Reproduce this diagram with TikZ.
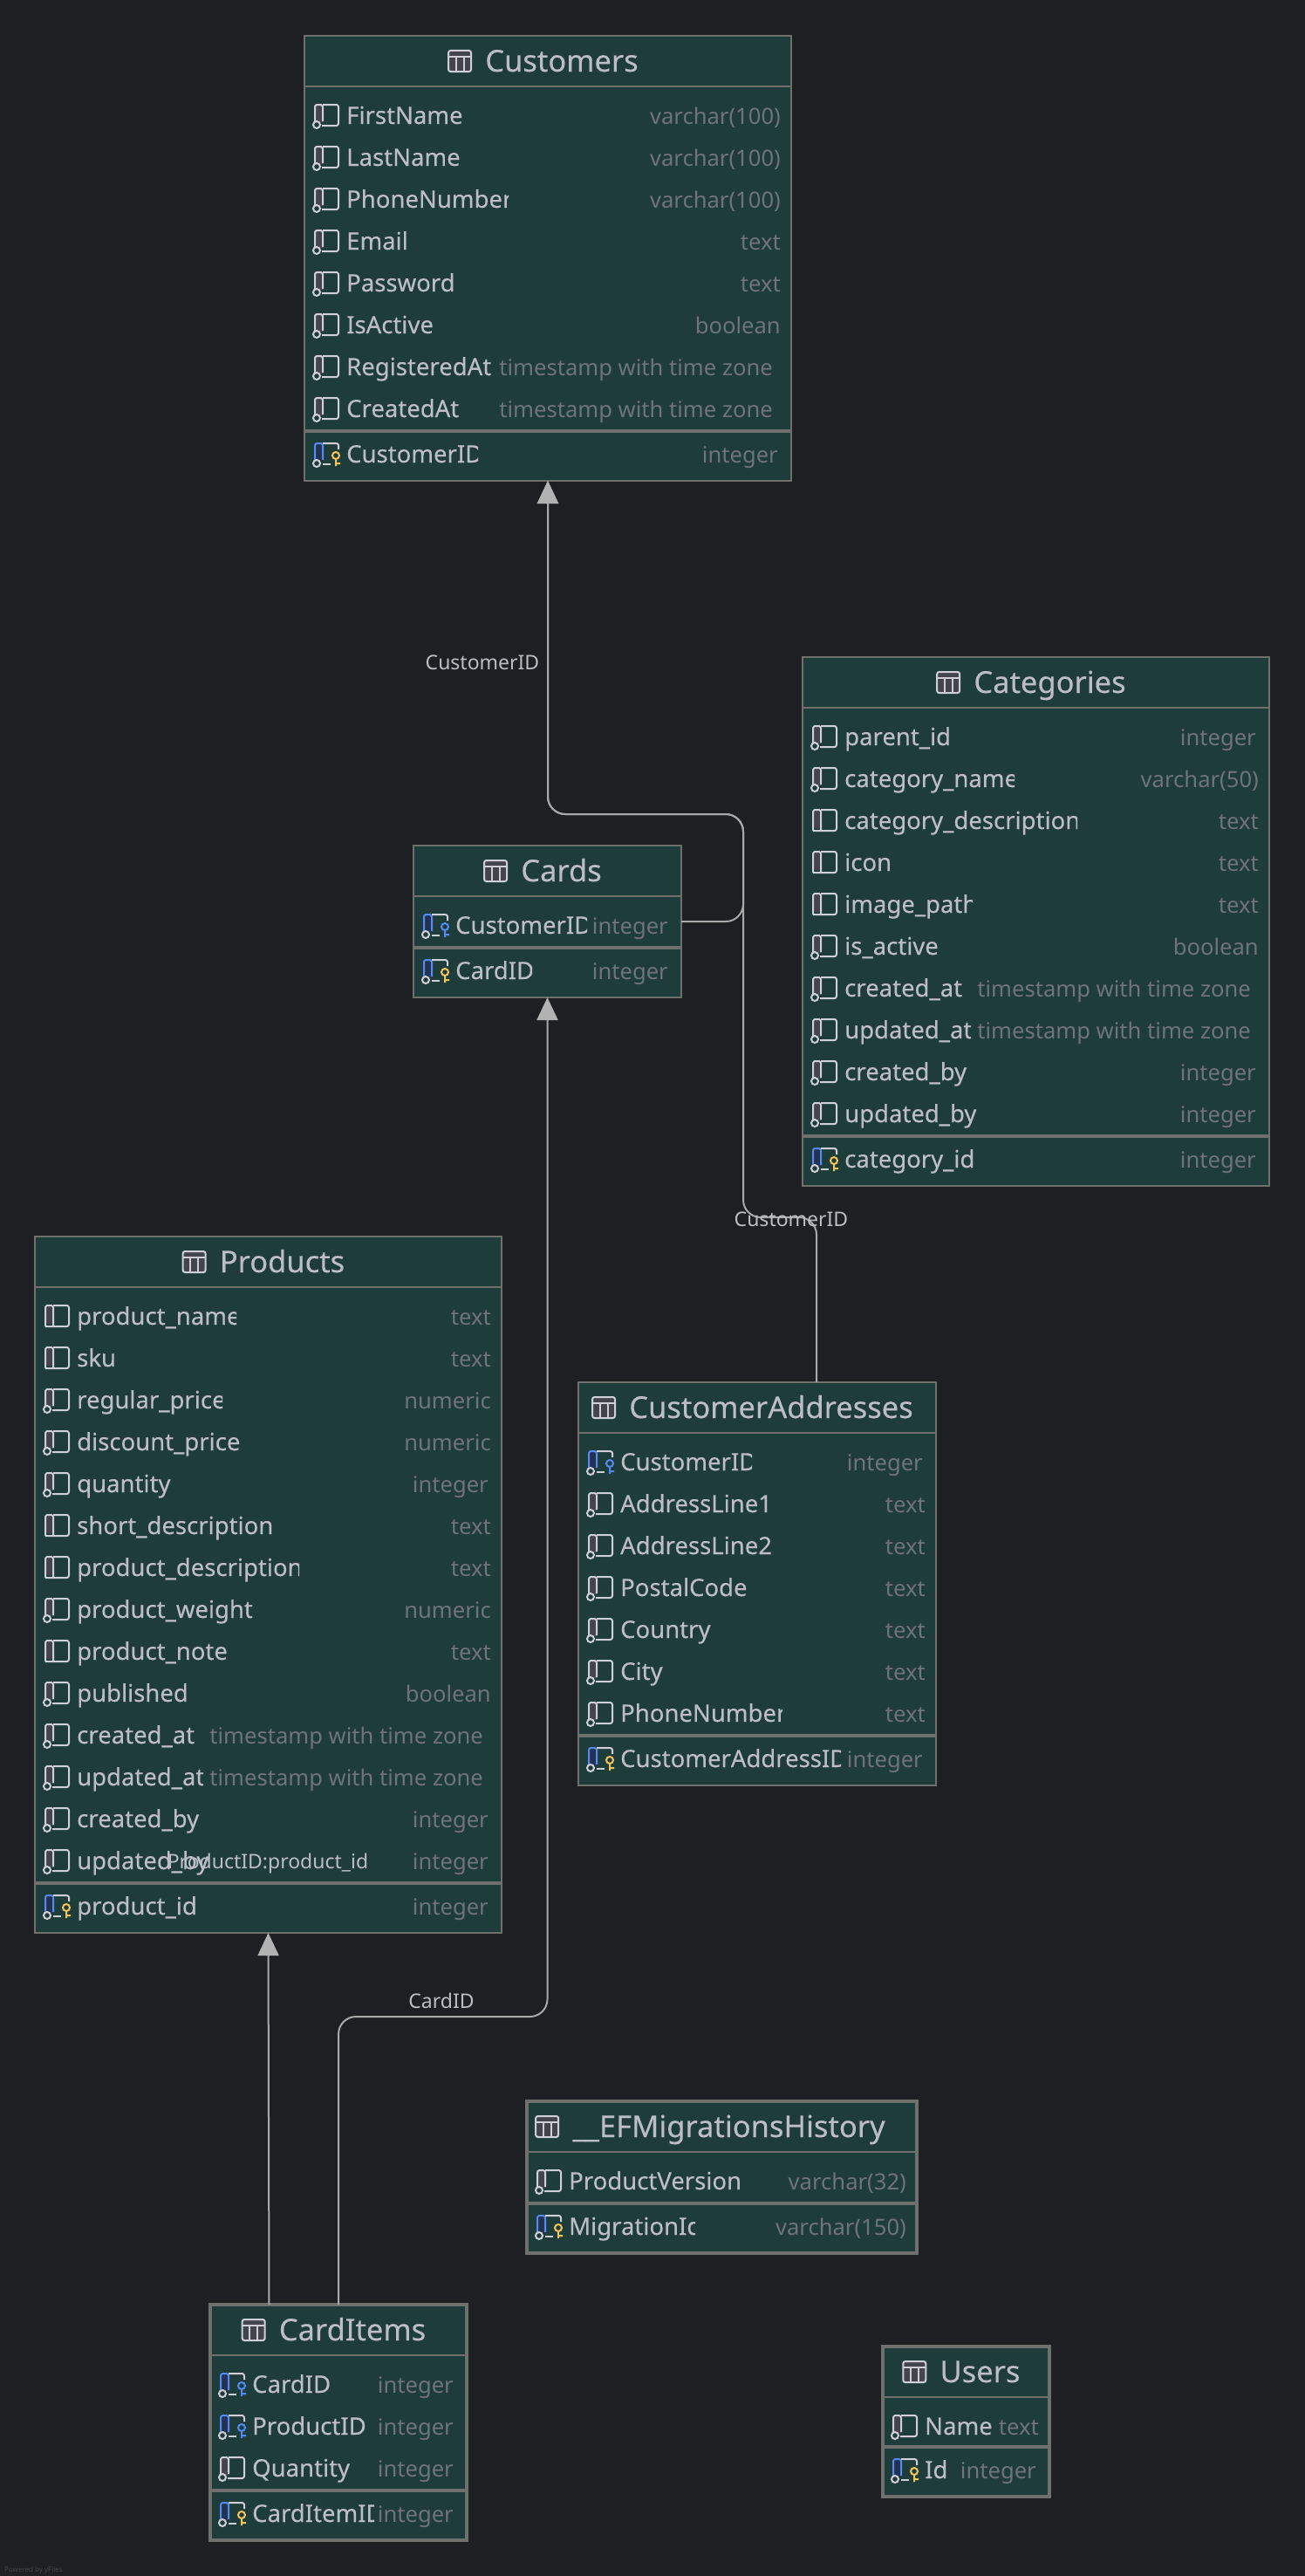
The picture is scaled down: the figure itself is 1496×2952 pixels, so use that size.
\documentclass[tikz,border=0pt]{standalone}
\usepackage{fontspec}
\setmainfont{Noto Sans}
\newfontfamily\namefont[FakeBold=0.2]{Noto Sans}
\usetikzlibrary{arrows.meta, positioning}

\definecolor{canvasbg}{HTML}{1E1F22}
\definecolor{tablefill}{HTML}{1E3C3A}
\definecolor{tableedge}{HTML}{6F706E}
\definecolor{nametext}{HTML}{BCBEC4}
\definecolor{typetext}{HTML}{6F737A}
\definecolor{linkgray}{HTML}{A9A9A9}
\definecolor{iconline}{HTML}{CED0D6}
\definecolor{iconfill}{HTML}{43454A}
\definecolor{keyblue}{HTML}{548AF7}
\definecolor{blueback}{HTML}{25324D}
\definecolor{keygold}{HTML}{F2C55C}

\tikzset{
  tablebox/.style={draw=tableedge, fill=tablefill, rectangle, inner sep=0pt, outer sep=0pt, anchor=north west},
  tabletitle/.style={text=nametext, inner sep=0pt, anchor=base, font=\namefont\fontsize{34.5}{40}\selectfont},
  rowname/.style={text=nametext, inner sep=0pt, anchor=base west, font=\namefont\fontsize{27.5}{32}\selectfont},
  rowtype/.style={text=typetext, inner sep=0pt, anchor=base east, font=\fontsize{25.6}{32}\selectfont},
  linklabel/.style={text=nametext, inner sep=0pt, font=\fontsize{23}{28}\selectfont},
  fklink/.style={draw=linkgray, line width=2pt, rounded corners=20pt},
  fkarrow/.style={fklink, -{Triangle[width=24pt,length=26pt,color=linkgray!90!white]}},
  pics/tableicon/.style={code={
    \draw[draw=iconline, fill=iconfill, line width=2pt, rounded corners=2.5pt] (-13,-12) rectangle (13,12);
    \draw[draw=iconline, line width=2pt] (-13,-5) -- (13,-5) (-4.5,-5) -- (-4.5,12) (4.5,-5) -- (4.5,12);
  }},
  pics/colicon/.style={code={
    \ifnum#1>1
      \fill[blueback, rounded corners=2pt] (12,-12) rectangle (21,9);
      \draw[keyblue, line width=2pt, rounded corners=2.5pt] (12,7) -- (12,-12) -- (21,-12) -- (21,7);
    \else
      \fill[iconfill, rounded corners=2pt] (12,-12) rectangle (21,9);
      \draw[iconline, line width=2pt, rounded corners=2.5pt] (12,\ifnum#1>0 7\else 12\fi) -- (12,-12) -- (21,-12) -- (21,\ifnum#1>0 7\else 12\fi);
    \fi
    \ifnum#1>1
      \draw[iconline, line width=2pt, rounded corners=2.5pt] (21,-12) -- (39,-12) -- (39,-5);
      \draw[iconline, line width=2pt] (21,12) -- (30,12);
      \ifnum#1=2 \def\keycol{keyblue}\else \def\keycol{keygold}\fi
      \draw[\keycol, line width=2pt] (36,2) circle (4) (36,6) -- (36,14) (36,11) -- (41,11);
    \else
      \draw[iconline, line width=2pt, rounded corners=2.5pt] (21,-12) -- (39,-12) -- (39,12) -- (\ifnum#1>0 20\else 12\fi,12);
    \fi
    \ifnum#1>0 \draw[iconline, line width=2pt] (14,11) circle (4); \fi
  }}
}

\newcommand{\tstz}{timestamp with time zone\kern9pt}
\newcommand{\intg}{integer\kern3pt}

% one column line: y, index, name, clip, type, icon
\newcommand{\dbrow}[6]{
  \pic at (0,#1) {colicon=#6};
  \begin{scope}
    \clip (48,#1-20) rectangle (48+#4,#1+22);
    \node[rowname] (\tableid-name#2) at (48,#1+10) {#3};
  \end{scope}
  \node[rowtype] (\tableid-type#2) at (\tablew-12,#1+10) {#5};
}
% the key column under the thick line: name, clip, type
\newcommand{\pkrow}[3]{\dbrow{\pky}{0}{#1}{#2}{#3}{3}}

% [box options], id, title, left, top, right, bottom, columns, key column
\newcommand{\dbtable}[9][line width=1.5pt]{
  \node[tablebox, #1, minimum width=#6-#4, minimum height=#7-#5] (#2) at (#4,#5) {};
  \begin{scope}[shift={(#4,#5)}]
    \def\tableid{#2}
    \pgfmathsetmacro{\tablew}{#6-#4}
    \pgfmathsetmacro{\tableh}{#7-#5}
    \pgfmathsetmacro{\pky}{\tableh-31}
    \node[tabletitle] (#2-title) at (\tablew/2+16,41) {#3};
    \pic at ([xshift=-29pt,yshift=12pt]#2-title.base west) {tableicon};
    \draw[tableedge, line width=2pt] (0,58) -- (\tablew,58);
    \draw[tableedge, line width=4pt] (0,\tableh-57) -- (\tablew,\tableh-57);
    \foreach \colname/\colclip/\coltype/\colkind [count=\i] in {#8} {
      \pgfmathsetmacro{\rowy}{91+48*(\i-1)}
      \dbrow{\rowy}{\i}{\colname}{\colclip}{\coltype}{\colkind}
    }
    #9
  \end{scope}
}

\begin{document}
\begin{tikzpicture}[x=1pt, y=-1pt]
\useasboundingbox[fill=canvasbg] (0,0) rectangle (1496,2952);

\dbtable{customers}{Customers}{349}{41}{907}{551}{
  FirstName/135/varchar(100)/1, LastName/130/varchar(100)/1, PhoneNumber/186/varchar(100)/1,
  Email/200/text/1, Password/200/text/1, IsActive/200/boolean/1,
  RegisteredAt/170/\tstz/1, CreatedAt/135/\tstz/1
}{\pkrow{CustomerID}{151}{\intg}}

\dbtable{categories}{Categories}{920}{753}{1455}{1359}{
  parent\_id/200/\intg/1, category\_name/195/varchar(50)/1, category\_description/267/text/0,
  icon/200/text/0, image\_path/147/text/0, is\_active/111/boolean/1,
  created\_at/137/\tstz/1, updated\_at/145/\tstz/1, created\_by/143/\intg/1, updated\_by/151/\intg/1
}{\pkrow{category\_id}{149}{\intg}}

\dbtable{cards}{Cards}{474}{969}{781}{1143}{
  CustomerID/151/\intg/2
}{\pkrow{CardID}{88}{\intg}}

\dbtable{products}{Products}{40}{1417}{575}{2215}{
  product\_name/183/text/0, sku/200/text/0, regular\_price/167/numeric/1,
  discount\_price/187/numeric/1, quantity/200/\intg/1, short\_description/223/text/0,
  product\_description/255/text/0, product\_weight/201/numeric/1, product\_note/200/text/0,
  published/200/boolean/1, created\_at/137/\tstz/1, updated\_at/145/\tstz/1,
  created\_by/143/\intg/1, updated\_by/200/\intg/1
}{\pkrow{product\_id}{140}{\intg}}

\dbtable{addresses}{CustomerAddresses}{663}{1584}{1073}{2046}{
  CustomerID/151/\intg/2, AddressLine1/174/text/1, AddressLine2/177/text/1, PostalCode/147/text/1,
  Country/200/text/1, City/200/text/1, PhoneNumber/186/text/1
}{\pkrow{CustomerAddressID}{253}{\intg}}

\dbtable[line width=3.5pt]{history}{\_\_EFMigrationsHistory\kern16pt}{604}{2408}{1051}{2582}{
  ProductVersion/199/varchar(32)/1
}{\pkrow{MigrationId}{145}{varchar(150)}}

\dbtable[line width=3.5pt]{carditems}{CardItems}{241}{2641}{535}{2911}{
  CardID/90/\intg/2, ProductID/130/\intg/2, Quantity/200/\intg/1
}{\pkrow{CardItemID}{140}{\intg}}

\dbtable[line width=3.5pt]{users}{Users}{1012}{2689}{1203}{2861}{
  Name/100/text/1
}{\pkrow{Id}{60}{\intg}}

\coordinate (custbend) at (852,933);
\coordinate (addrbend) at (852,1395);
\coordinate (cardbend) at (627.5,2311);

\draw[fkarrow] (cards.east) -| (custbend) -| (customers.south);
\draw[fkarrow] ([xshift=68pt]addresses.north) |- (addrbend) -- (custbend) -| (customers.south);
\draw[fkarrow] ([xshift=-79.5pt]carditems.north) -- (products.south);
\draw[fkarrow] (carditems.north) |- (cardbend) -- (cards.south);

\node[linklabel] (lblcust) at (553,759) {CustomerID};
\node[linklabel] (lbladdr) at (907,1397) {CustomerID};
\node[linklabel] (lblprod) at (307,2135) {ProductID:product\_id};
\node[linklabel] (lblcard) at (506,2293) {CardID};
\node[text=iconfill, inner sep=0pt, anchor=base west, font=\fontsize{8}{9}\selectfont] (yfiles) at (5,2947) {Powered by yFiles};
\end{tikzpicture}
\end{document}
